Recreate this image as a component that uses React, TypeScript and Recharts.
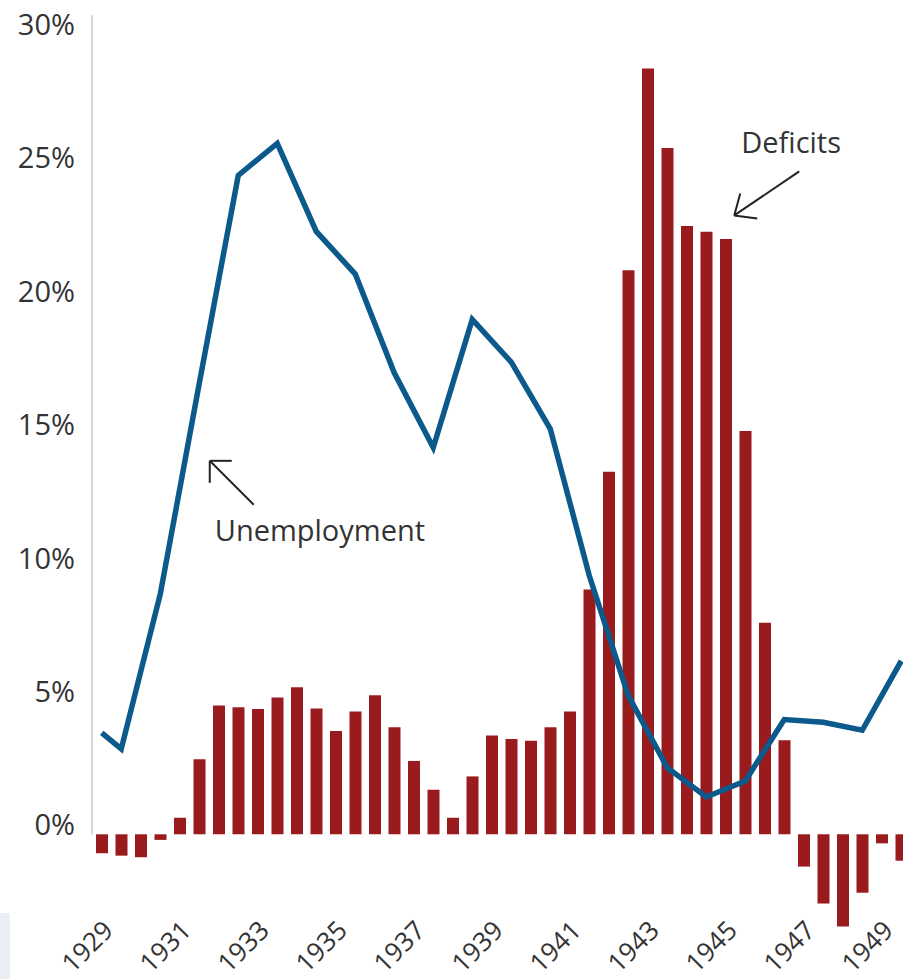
import { ComposedChart, Bar, Line, XAxis, YAxis, ReferenceLine, ReferenceDot } from 'recharts'

// half-year categories, 1929 to 1949
const periods = [
  '1929-1', '1929-2', '1930-1', '1930-2', '1931-1', '1931-2', '1932-1', '1932-2',
  '1933-1', '1933-2', '1934-1', '1934-2', '1935-1', '1935-2', '1936-1', '1936-2',
  '1937-1', '1937-2', '1938-1', '1938-2', '1939-1', '1939-2', '1940-1', '1940-2',
  '1941-1', '1941-2', '1942-1', '1942-2', '1943-1', '1943-2', '1944-1', '1944-2',
  '1945-1', '1945-2', '1946-1', '1946-2', '1947-1', '1947-2', '1948-1', '1948-2',
  '1949-1', '1949-2',
]

const tickYears = ['1929', '1931', '1933', '1935', '1937', '1939', '1941', '1943', '1945', '1947', '1949']

// deficit, % (bars)
const deficits = [
  -0.71, -0.8, -0.86, -0.21, 0.62, 2.81, 4.83, 4.76,
  4.7, 5.13, 5.51, 4.72, 3.87, 4.6, 5.21, 4.01,
  2.75, 1.67, 0.62, 2.17, 3.7, 3.57, 3.51, 4.01,
  4.6, 9.18, 13.59, 21.14, 28.71, 25.73, 22.8, 22.59,
  22.32, 15.12, 7.93, 3.53, -1.21, -2.59, -3.46, -2.19,
  -0.34, -0.99,
]

// unemployment rate, % (line)
const unemployment = [
  3.8, 3.2, null, 9.0, null, 16.9, null, 24.7,
  null, 25.9, null, 22.6, null, 21.0, null, 17.3,
  null, 14.5, null, 19.3, null, 17.7, null, 15.2,
  null, 9.7, null, 5.2, null, 2.5, null, 1.4,
  null, 2.0, null, 4.3, null, 4.2, null, 3.9,
  null, 6.5,
]

const yTicks = [0, 5, 10, 15, 20, 25, 30]

const data = periods.map((p, i) => ({ period: p, deficit: deficits[i], unemployment: unemployment[i] }))

const FONT = '"Open Sans", sans-serif'
const INK = '#333'

function YTick({ x, y, payload }: any) {
  return (
    <text x={x - 9} y={y + 1} textAnchor="end" fontSize={29} fontFamily={FONT} fill={INK}>
      {payload.value}%
    </text>
  )
}

function XTick({ x, y, payload }: any) {
  const ax = x + 13
  const ay = y - 17
  return (
    <text x={ax} y={ay} textAnchor="end" fontSize={26} fontFamily={FONT} fill={INK}
      transform={`rotate(-45, ${ax}, ${ay})`}>
      {String(payload.value).slice(0, 4)}
    </text>
  )
}

function UnempNote({ cx, cy }: any) {
  const tx = cx - 9
  return (
    <g>
      <line x1={tx} y1={cy} x2={tx + 44} y2={cy + 44} stroke="#222" strokeWidth={2} />
      <line x1={tx} y1={cy} x2={tx + 22} y2={cy} stroke="#222" strokeWidth={2} />
      <line x1={tx} y1={cy} x2={tx} y2={cy + 22} stroke="#222" strokeWidth={2} />
      <text x={cx - 4} y={cy + 80} fontSize={29} fontFamily={FONT} fill={INK}>Unemployment</text>
    </g>
  )
}

function DeficitNote({ cx, cy }: any) {
  const tx = cx - 11
  return (
    <g>
      <line x1={tx} y1={cy} x2={tx + 65} y2={cy - 44} stroke="#222" strokeWidth={2} />
      <line x1={tx} y1={cy} x2={tx + 6} y2={cy - 22} stroke="#222" strokeWidth={2} />
      <line x1={tx} y1={cy} x2={tx + 23} y2={cy + 3} stroke="#222" strokeWidth={2} />
      <text x={cx - 4} y={cy - 62} fontSize={29} fontFamily={FONT} fill={INK}>Deficits</text>
    </g>
  )
}

export default function App() {
  return (
    <div style={{ position: 'absolute', left: 0, top: 0, width: 903, height: 979, overflow: 'hidden', background: '#fff' }}>
      <div style={{ position: 'absolute', left: 0, top: 913, width: 10, height: 66, background: '#eceef6' }} />
      <ComposedChart width={911} height={979} data={data} margin={{ top: 34, right: 0, bottom: 0, left: 0 }}>
        <XAxis dataKey="period" ticks={tickYears.map((y) => y + '-1')} interval={0}
          axisLine={false} tickLine={false} height={38} tick={<XTick />} />
        <YAxis type="number" domain={[-4, 30]} ticks={yTicks} width={92}
          axisLine={false} tickLine={false} tick={<YTick />} />
        <ReferenceLine segment={[{ x: periods[0], y: 0 }, { x: periods[0], y: 30.7 }]} position="start"
          stroke="#d6d6d6" strokeWidth={2} ifOverflow="visible" />
        <Bar dataKey="deficit" fill="#9a1b1e" barSize={12} isAnimationActive={false} />
        <Line type="linear" dataKey="unemployment" stroke="#0c5a8c" strokeWidth={5.5} dot={false}
          connectNulls isAnimationActive={false} />
        <ReferenceDot x={periods[6]} y={14} r={0} ifOverflow="visible" shape={(p: any) => <UnempNote {...p} />} />
        <ReferenceDot x={periods[33]} y={23.2} r={0} ifOverflow="visible" shape={(p: any) => <DeficitNote {...p} />} />
      </ComposedChart>
    </div>
  )
}
